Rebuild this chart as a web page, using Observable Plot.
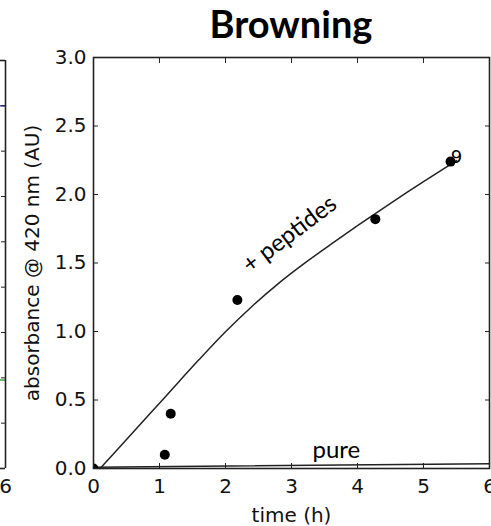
<!DOCTYPE html>
<html><head><meta charset="utf-8">
<script src="https://cdn.jsdelivr.net/npm/d3@7"></script>
<script src="https://cdn.jsdelivr.net/npm/@observablehq/plot@0.6"></script>
<style>
body{margin:0;background:#fff;}
#wrap{position:relative;width:491px;height:526px;overflow:hidden;background:#fff;}
#title{position:absolute;left:93px;width:396px;top:0;text-align:center;font-family:Lato,sans-serif;font-weight:bold;font-size:38px;line-height:normal;color:#000;}
#main{position:absolute;left:0;top:47px;}
#left{position:absolute;left:0;top:47px;}
</style>
</head><body>
<div id="wrap">
  <div id="main"></div>
  <div id="left"></div>
  <div id="title">Browning</div>
</div>
<script>
// ---- data ----
const peptT = [0.1, 0.6, 1.1, 1.6, 2.0, 2.4, 2.8, 3.2, 3.6, 4.0, 4.5, 5.0, 5.5];
const peptY = [0, 0.265, 0.53, 0.795, 0.998, 1.183, 1.35, 1.499, 1.637, 1.772, 1.936, 2.094, 2.247];
const pureT = [0, 6];
const pureY = [0.01, 0.035];
const dotT = [0, 1.08, 1.17, 2.18, 4.27, 5.41];
const dotY = [0, 0.10, 0.40, 1.23, 1.82, 2.24];
const markT = [5.5];
const markY = [2.27];
const markText = ["9"];
const xTicks = [0, 1, 2, 3, 4, 5, 6];
const yTicks = [0, 0.5, 1.0, 1.5, 2.0, 2.5, 3.0];
const peptLabel = ["+ peptides"];
const peptLabelT = [2.97];
const peptLabelY = [1.71];
const pureLabel = ["pure"];
const pureLabelT = [3.68];
const pureLabelY = [0.076];
const xTitle = ["time (h)"];
const yTitle = ["absorbance @ 420 nm (AU)"];
// neighbouring (cut-off) panel on the left
const leftBlueT = [0, 6];
const leftBlueY = [8, 8];
const leftGreenT = [0, 6];
const leftGreenY = [1.95, 1.95];
const leftYTicks = [1, 2, 3, 4, 5, 6, 7, 8];
const leftXTicks = [6];

const zip = (a, b) => a.map((v, i) => ({t: v, y: b[i]}));
const pept = zip(peptT, peptY);
const pure = zip(pureT, pureY);
const dots = zip(dotT, dotY);
const marks9 = markT.map((t, i) => ({t, y: markY[i], s: markText[i]}));
const ink = "#222";
const tickFont = "DejaVu Sans";

const main = Plot.plot({
  width: 491, height: 479,
  marginTop: 10, marginBottom: 58, marginLeft: 93, marginRight: 2,
  style: {background: "white", fontFamily: tickFont, fontSize: "20px", color: "#111", overflow: "visible"},
  x: {domain: [0, 6]},
  y: {domain: [0, 3]},
  marks: [
    // tick labels
    Plot.axisX(xTicks, {anchor: "bottom", tickSize: 0, tickPadding: 10, label: null, fontSize: 20}),
    Plot.axisY(yTicks, {anchor: "left", tickSize: 0, tickPadding: 7, label: null, tickFormat: d3.format(".1f"), fontSize: 20}),
    // inward ticks on all four sides
    Plot.axisX(xTicks, {anchor: "bottom", tickSize: 5, dy: -5, tickFormat: () => "", label: null, stroke: ink}),
    Plot.axisX(xTicks, {anchor: "top", tickSize: 5, dy: 5, tickFormat: () => "", label: null, stroke: ink}),
    Plot.axisY(yTicks, {anchor: "left", tickSize: 5, dx: 5, tickFormat: () => "", label: null, stroke: ink}),
    Plot.axisY(yTicks, {anchor: "right", tickSize: 5, dx: -5, tickFormat: () => "", label: null, stroke: ink}),
    // series
    Plot.line(pure, {x: "t", y: "y", stroke: ink, strokeWidth: 1.5}),
    Plot.line(pept, {x: "t", y: "y", stroke: ink, strokeWidth: 1.5, curve: "monotone-x"}),
    Plot.dot(dots, {x: "t", y: "y", r: 5, fill: "#000", stroke: null, clip: true}),
    Plot.text(marks9, {x: "t", y: "y", text: "s", fontFamily: tickFont, fontSize: 18, fill: "#000"}),
    // in-plot labels
    Plot.text(peptLabel, {x: () => peptLabelT[0], y: () => peptLabelY[0], text: d => d, rotate: -37, fontFamily: "Lato", fontSize: 24, fill: "#000"}),
    Plot.text(pureLabel, {x: () => pureLabelT[0], y: () => pureLabelY[0], text: d => d, lineAnchor: "bottom", fontFamily: "Lato", fontSize: 24, fill: "#000"}),
    // axis titles
    Plot.text(xTitle, {frameAnchor: "bottom", dy: 47, lineAnchor: "middle", text: d => d, fontFamily: tickFont, fontSize: 20, fill: "#111"}),
    Plot.text(yTitle, {frameAnchor: "left", dx: -61, rotate: -90, textAnchor: "middle", lineAnchor: "middle", text: d => d, fontFamily: tickFont, fontSize: 20, fill: "#111"}),
    Plot.frame({stroke: ink, strokeWidth: 1.6})
  ]
});
document.getElementById("main").append(main);

const leftBlue = zip(leftBlueT, leftBlueY);
const leftGreen = zip(leftGreenT, leftGreenY);
const left = Plot.plot({
  width: 20, height: 479,
  marginTop: 13, marginBottom: 58, marginLeft: 0, marginRight: 15,
  style: {background: "transparent", fontFamily: tickFont, fontSize: "20px", color: "#111", overflow: "visible"},
  x: {domain: [0, 6]},
  y: {domain: [0, 9]},
  marks: [
    Plot.line(leftBlue, {x: "t", y: "y", stroke: "#4040b0", strokeWidth: 1.5}),
    Plot.line(leftGreen, {x: "t", y: "y", stroke: "#40a040", strokeWidth: 1.5}),
    Plot.axisY(leftYTicks, {anchor: "right", tickSize: 5, dx: -5, tickFormat: () => "", label: null, stroke: ink}),
    Plot.axisX(leftXTicks, {anchor: "bottom", tickSize: 0, tickPadding: 10, label: null, fontSize: 20}),
    Plot.ruleX([6], {stroke: ink, strokeWidth: 1.6}),
    Plot.ruleY([0, 9], {stroke: ink, strokeWidth: 1.6})
  ]
});
document.getElementById("left").append(left);
</script>
</body></html>
